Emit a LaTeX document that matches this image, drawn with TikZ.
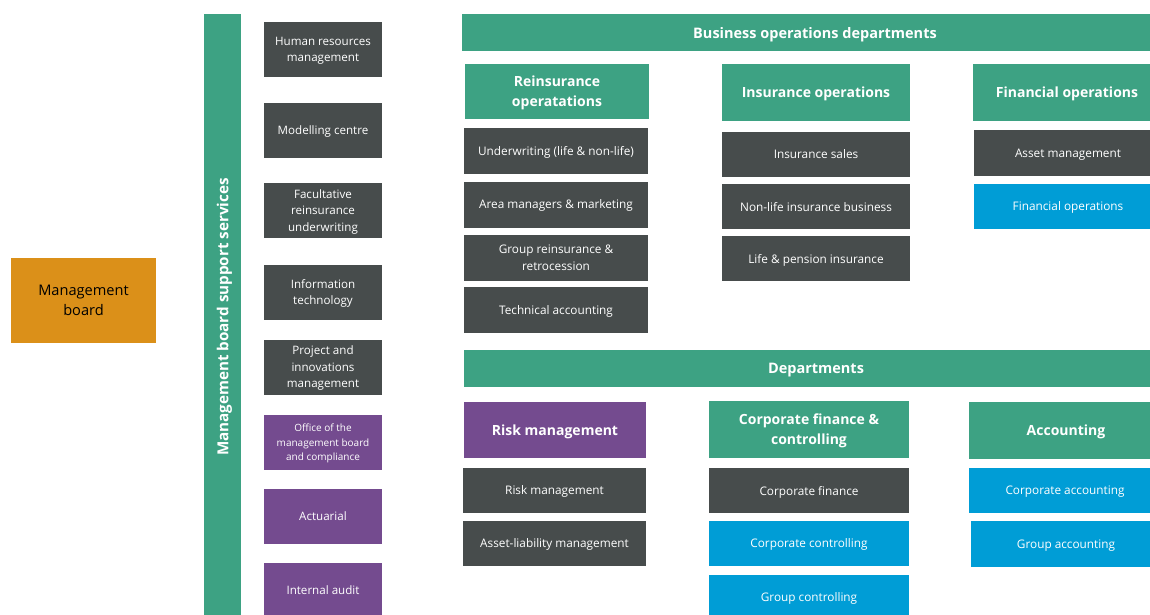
\documentclass[tikz,border=0pt]{standalone}
\usepackage{fontspec}
\setmainfont{Open Sans}
\definecolor{opsgreen}{HTML}{3DA283}
\definecolor{unitgrey}{HTML}{474C4C}
\definecolor{unitpurple}{HTML}{744B8F}
\definecolor{unitblue}{HTML}{009DD6}
\definecolor{boardorange}{HTML}{DB9019}
\begin{document}
\begin{tikzpicture}[x=1pt, y=-1pt,
    unit/.style={rectangle, inner sep=1pt, align=center, text=white, text depth=0pt,
      font=\fontsize{11.8}{16.5}\selectfont},
    header/.style={unit, fill=opsgreen, font=\bfseries\fontsize{14}{20}\selectfont}
  ]
  \useasboundingbox (0,0) rectangle (1150,615);
  \clip (0,0) rectangle (1150,615);

  % management board and support services
  \node[rectangle, fill=boardorange, minimum width=145pt, minimum height=85pt, align=center,
    text depth=0pt, font=\fontsize{14.6}{20}\selectfont] (board) at (83.5,300.5) {Management\\board};
  \node[unit, fill=opsgreen, rotate=90, minimum width=606pt, minimum height=37pt,
    font=\bfseries\fontsize{15.2}{18}\selectfont] (supportbar) at (222.5,317) {Management board support services};

  \foreach \y/\col/\sz/\ls/\txt [count=\i] in {
      49.5/unitgrey/11.6/16.5/{Human resources\\management},
      130.5/unitgrey/11.6/16.5/{Modelling centre},
      210.5/unitgrey/11.6/16.5/{Facultative\\reinsurance\\underwriting},
      292/unitgrey/11.6/16.5/{Information\\technology},
      367/unitgrey/11.6/16.5/{Project and\\innovations\\management},
      442.5/unitpurple/10/14.5/{Office of the\\management board\\and compliance},
      516.5/unitpurple/11.6/16.5/{Actuarial},
      590.5/unitpurple/11.6/16.5/{Internal audit}} {
    \node[unit, fill=\col, minimum width=118pt, minimum height=55pt,
      font=\fontsize{\sz}{\ls}\selectfont] (support\i) at (323,\y) {\txt};
  }

  % business operations departments
  \node[header, minimum width=706pt, minimum height=37pt, font=\bfseries\fontsize{14.5}{18}\selectfont]
    (busops) at (815,32.5) {Business operations departments};
  \node[header, minimum width=184pt, minimum height=55pt] (reins) at (557,91.5) {Reinsurance\\operatations};
  \node[header, minimum width=188pt, minimum height=57pt] (insops) at (816,92.5) {Insurance operations};
  \node[header, minimum width=188pt, minimum height=57pt] (finops) at (1067,92.5) {Financial operations};

  \foreach \y/\txt [count=\i] in {151/{Underwriting (life \& non-life)}, 204.5/{Area managers \& marketing},
      257.5/{Group reinsurance \&\\retrocession}, 310/{Technical accounting}} {
    \node[unit, fill=unitgrey, minimum width=184pt, minimum height=46pt] (reins\i) at (556,\y) {\txt};
  }
  \foreach \y/\txt [count=\i] in {154/{Insurance sales}, 206.5/{Non-life insurance business},
      258.5/{Life \& pension insurance}} {
    \node[unit, fill=unitgrey, minimum width=188pt, minimum height=45pt] (insops\i) at (816,\y) {\txt};
  }
  \node[unit, fill=unitgrey, minimum width=188pt, minimum height=46pt] (finops1) at (1068,153) {Asset management};
  \node[unit, fill=unitblue, minimum width=188pt, minimum height=45pt] (finops2) at (1068,206.5) {Financial operations};

  % departments
  \node[header, minimum width=704pt, minimum height=37pt, font=\bfseries\fontsize{14.5}{18}\selectfont]
    (depts) at (816,368.5) {Departments};
  \node[header, fill=unitpurple, minimum width=182pt, minimum height=56pt] (risk) at (555,430) {Risk management};
  \node[header, minimum width=200pt, minimum height=57pt] (corpfin) at (809,429.5) {Corporate finance \&\\controlling};
  \node[header, minimum width=194pt, minimum height=57pt] (acct) at (1066,430.5) {Accounting};

  \node[unit, fill=unitgrey, minimum width=183pt, minimum height=45pt] (risk1) at (554.5,490.5) {Risk management};
  \node[unit, fill=unitgrey, minimum width=183pt, minimum height=45pt] (risk2) at (554.5,543.5) {Asset-liability management};

  \foreach \y/\col/\txt [count=\i] in {490.5/unitgrey/{Corporate finance}, 543.5/unitblue/{Corporate controlling},
      597.5/unitblue/{Group controlling}} {
    \node[unit, fill=\col, minimum width=200pt, minimum height=45pt] (corpfin\i) at (809,\y) {\txt};
  }
  \node[unit, fill=unitblue, minimum width=192pt, minimum height=45pt] (acct1) at (1065,490.5) {Corporate accounting};
  \node[unit, fill=unitblue, minimum width=190pt, minimum height=46pt] (acct2) at (1066,544) {Group accounting};
\end{tikzpicture}
\end{document}
